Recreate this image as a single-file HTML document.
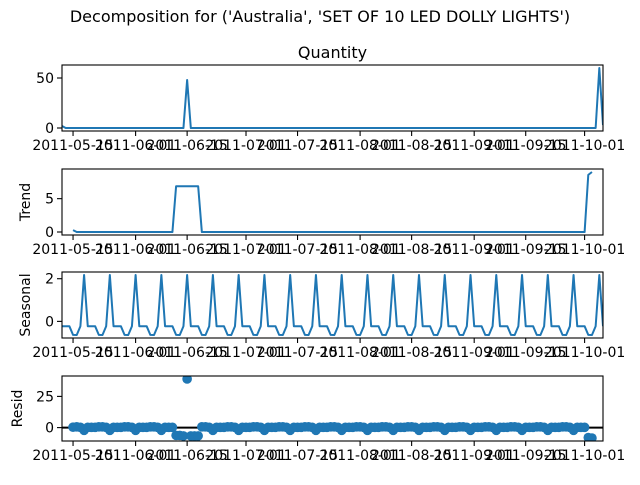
<!DOCTYPE html>
<html><head><meta charset="utf-8"><style>
body{margin:0;background:#fff;}
svg text{font-family:"DejaVu Sans","Liberation Sans",sans-serif;}
</style></head><body>
<svg id="fig" width="640" height="480" xmlns="http://www.w3.org/2000/svg">
<rect x="0" y="0" width="640" height="480" fill="#fff"/>
<text x="320" y="22" font-size="16" text-anchor="middle">Decomposition for ('Australia', 'SET OF 10 LED DOLLY LIGHTS')</text>
</svg>
<script>
// Data: daily quantity from 2011-05-12 (index 0) to 2011-10-06 (index 147)
const nDays = 148;
const spikeDays = [0, 34, 146, 147];
const spikeValues = [2, 48, 60, 3];
const period = 7;
const xTickDays = [3, 20, 34, 50, 64, 81, 95, 112, 126, 142];
const xTickLabels = ["2011-05-15","2011-06-01","2011-06-15","2011-07-01","2011-07-15","2011-08-01","2011-08-15","2011-09-01","2011-09-15","2011-10-01"];
const yTicksQuantity = [0, 50];
const yTicksTrend = [0, 5];
const yTicksSeasonal = [0, 2];
const yTicksResid = [0, 25];

const quantity = new Array(nDays).fill(0);
spikeDays.forEach((d,i)=>{quantity[d]=spikeValues[i];});
const half = Math.floor(period/2);
const trend = quantity.map((v,i)=>{
  if(i<half||i>=nDays-half) return null;
  let s=0; for(let k=-half;k<=half;k++) s+=quantity[i+k]; return s/period;
});
const phaseSum=new Array(period).fill(0), phaseN=new Array(period).fill(0);
quantity.forEach((v,i)=>{ if(trend[i]!==null){phaseSum[i%period]+=v-trend[i];phaseN[i%period]++;} });
let pAvg=phaseSum.map((s,k)=>s/phaseN[k]);
const pMean=pAvg.reduce((a,b)=>a+b,0)/period;
pAvg=pAvg.map(v=>v-pMean);
const seasonal=quantity.map((v,i)=>pAvg[i%period]);
const resid=quantity.map((v,i)=>trend[i]===null?null:v-trend[i]-seasonal[i]);

const svg=document.getElementById('fig');
const NS='http://www.w3.org/2000/svg';
const L=62,R=603;
function xs(d){return L+(d/(nDays-1))*(R-L);}
function mk(tag,attrs,parent){const e=document.createElementNS(NS,tag);for(const k in attrs)e.setAttribute(k,attrs[k]);(parent||svg).appendChild(e);return e;}

const panels=[
 {name:'quantity',data:quantity,top:65,bot:131,ticks:yTicksQuantity,label:null,title:'Quantity',kind:'line'},
 {name:'trend',data:trend,top:169,bot:235,ticks:yTicksTrend,label:'Trend',lx:30,kind:'line'},
 {name:'seasonal',data:seasonal,top:272,bot:338,ticks:yTicksSeasonal,label:'Seasonal',lx:30,kind:'line'},
 {name:'resid',data:resid,top:376,bot:441,ticks:yTicksResid,label:'Resid',lx:22,kind:'scatter'}
];
panels.forEach(p=>{
  const g=mk('g',{});
  
  
  const vals=p.data.filter(v=>v!==null);
  let mn=Math.min(...vals),mx=Math.max(...vals);
  if(p.kind==='scatter'){mn=Math.min(mn,0);mx=Math.max(mx,0);}
  const pad=(mx-mn)*0.05; mn-=pad; mx+=pad;
  const ys=v=>p.bot-(v-mn)/(mx-mn)*(p.bot-p.top);
  const clip=mk('clipPath',{id:'c-'+p.name},g);
  mk('rect',{x:L,y:p.top,width:R-L,height:p.bot-p.top},clip);
  const cg=mk('g',{'clip-path':'url(#c-'+p.name+')'},g);
  if(p.kind==='line'){
    let d='',pen=false;
    p.data.forEach((v,i)=>{if(v===null){pen=false;return;}d+=(pen?'L':'M')+xs(i).toFixed(2)+','+ys(v).toFixed(2);pen=true;});
    const path=mk('path',{d:d,fill:'none',stroke:'#1f77b4','stroke-width':2,'stroke-linejoin':'round'},cg);
    
    
  } else {
    const zl=mk('line',{x1:L,x2:R,y1:ys(0),y2:ys(0),stroke:'#000','stroke-width':2},cg);
    
    
    p.data.forEach((v,i)=>{if(v===null)return;
      const c=mk('circle',{cx:xs(i),cy:ys(v),r:4.8,fill:'#1f77b4'},cg);
      
      
    });
  }
  const fr=mk('rect',{x:L,y:p.top,width:R-L,height:p.bot-p.top,fill:'none',stroke:'#000','stroke-width':1.1},g);
  
  
  p.ticks.forEach(t=>{
    const y=ys(t);
    mk('line',{x1:L-5,x2:L,y1:y,y2:y,stroke:'#000','stroke-width':1.1},g);
    const tx=mk('text',{x:L-8,y:y+5,'font-size':14,'text-anchor':'end'},g);
    tx.textContent=t;
    
    
  });
  xTickDays.forEach((d,i)=>{
    const x=xs(d);
    mk('line',{x1:x,x2:x,y1:p.bot,y2:p.bot+5,stroke:'#000','stroke-width':1.1},g);
    const tx=mk('text',{x:x,y:p.bot+19,'font-size':14,'text-anchor':'middle'},g);
    tx.textContent=xTickLabels[i];
    
    
  });
  if(p.title){
    const t=mk('text',{x:(L+R)/2,y:p.top-7,'font-size':16,'text-anchor':'middle'},g);
    t.textContent=p.title;
    
    
  }
  if(p.label){
    const cy=(p.top+p.bot)/2;
    const t=mk('text',{x:p.lx,y:cy,'font-size':14,'text-anchor':'middle',transform:'rotate(-90 '+p.lx+' '+cy+')'},g);
    t.textContent=p.label;
    
    
  }
});
</script>
</body></html>
